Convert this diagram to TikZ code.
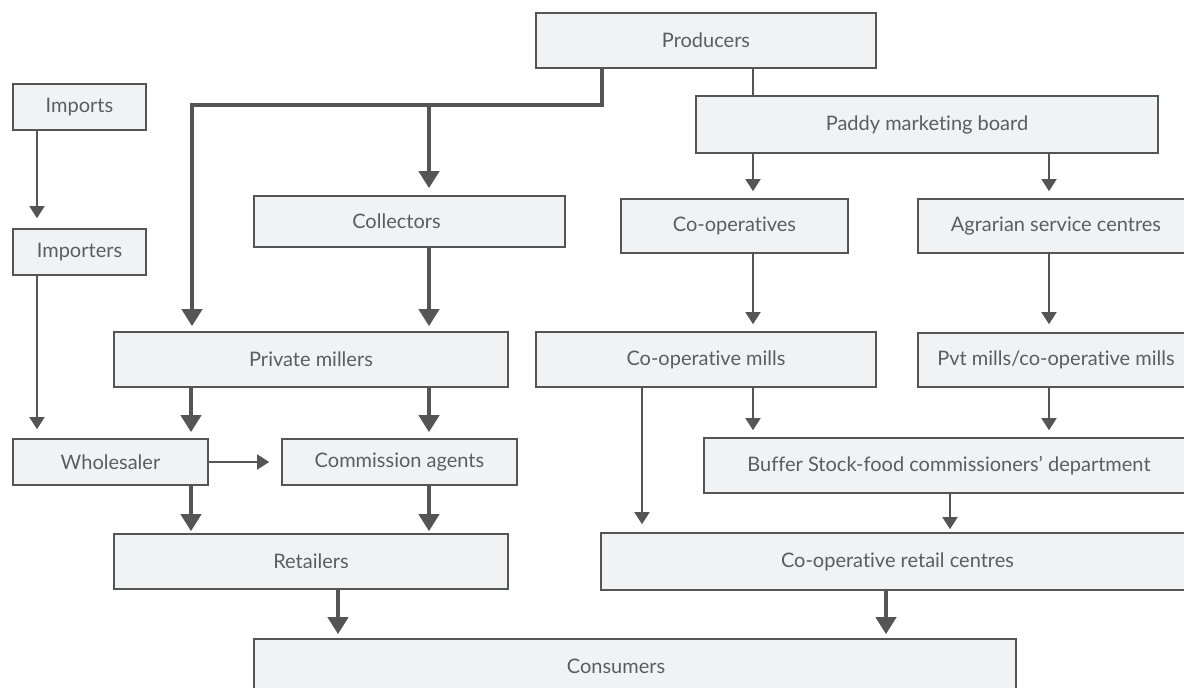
\documentclass[tikz,border=0pt]{standalone}
\usepackage{fontspec}
\setmainfont{Lato}[Ligatures=NoCommon]
\usetikzlibrary{arrows.meta}
\definecolor{boxfill}{HTML}{F1F2F4}
\definecolor{ink}{HTML}{555555}
\definecolor{txt}{HTML}{5A5D61}
\tikzset{
  box/.style={draw=ink, fill=boxfill, line width=1.6pt, rectangle, inner sep=0pt,
    text=txt, font=\fontsize{20}{24}\selectfont},
  heavy/.style={draw=ink, line width=4pt, -{Triangle[length=17pt,width=20pt]}},
  light/.style={draw=ink, line width=1.6pt, -{Triangle[length=12pt,width=15pt]}},
  plain/.style={draw=ink, line width=1.6pt},
}
% place a box by its corners (x1,y1) and (x2,y2), y measured downwards
\newcommand{\flowbox}[6]{%
  \node[box, minimum width={#4-#2}, minimum height={#5-#3}]
    (#1) at ({(#2+#4)/2},{(#3+#5)/2}) {#6};}
\begin{document}
\begin{tikzpicture}[x=1pt,y=-1pt]
\useasboundingbox (0,0) rectangle (1184,688);

% boxes
\flowbox{prod}{536}{13}{876}{68}{Producers}
\flowbox{paddy}{696}{96}{1158}{153}{Paddy marketing board}
\flowbox{imports}{13}{84}{146}{130}{Imports}
\flowbox{importers}{13}{229}{146}{275}{Importers}
\flowbox{collect}{254}{196}{565}{247}{Collectors\hspace*{26pt}}
\flowbox{coops}{621}{199}{848}{253}{Co-operatives}
\flowbox{agrar}{918}{199}{1194}{253}{Agrarian service centres}
\flowbox{privm}{114}{332}{508}{387}{Private millers}
\flowbox{coopmills}{536}{332}{876}{387}{Co-operative mills}
\flowbox{pvtm}{918}{333}{1194}{387}{Pvt mills/co-operative mills}
\flowbox{whole}{13}{439}{208}{485}{Wholesaler}
\flowbox{commis}{282}{439}{517}{485}{Commission agents}
\flowbox{buffer}{704}{438}{1194}{493}{Buffer Stock-food commissioners’ department}
\flowbox{retail}{114}{534}{508}{589}{Retailers}
\flowbox{coopretail}{601}{533}{1194}{590}{Co-operative retail centres}
\flowbox{consumers}{254}{639}{1016}{693}{Consumers\hspace*{38pt}}

% columns used by the connectors
\coordinate (c37) at (37,0);
\coordinate (c191) at (191,0);
\coordinate (c429) at (429,0);
\coordinate (c338) at (338,0);
\coordinate (c642) at (642,0);
\coordinate (c753) at (753,0);
\coordinate (c886) at (886,0);
\coordinate (c950) at (950,0);
\coordinate (c1049) at (1049,0);
\coordinate (r462) at (0,462);
% junctions of the heavy branch from the producers
\coordinate (jp) at (602,105);
\coordinate (jl) at (192,105);
\coordinate (jm) at (429,105);

% private trade channel
\draw[heavy, shorten >=5pt] (prod.south -| jp) -- (jp) -- (jl) -- (privm.north -| jl);
\draw[heavy, shorten >=7pt] (jm) -- (collect.north -| jm);
\draw[heavy, shorten >=5pt] (collect.south -| c429) -- (privm.north -| c429);
\draw[heavy, shorten >=6pt] (privm.south -| c191) -- (whole.north -| c191);
\draw[heavy, shorten >=6pt] (privm.south -| c429) -- (commis.north -| c429);
\draw[heavy, shorten >=2pt] (whole.south -| c191) -- (retail.north -| c191);
\draw[heavy, shorten >=2pt] (commis.south -| c429) -- (retail.north -| c429);
\draw[heavy, shorten >=4pt] (retail.south -| c338) -- (consumers.north -| c338);
\draw[heavy, shorten >=4pt] (coopretail.south -| c886) -- (consumers.north -| c886);

% imports
\draw[light, shorten >=10pt] (imports.south -| c37) -- (importers.north -| c37);
\draw[light, shorten >=9pt] (importers.south -| c37) -- (whole.north -| c37);
\draw[light, shorten >=12pt] (whole.east |- r462) -- (commis.west |- r462);

% state channel
\draw[plain] (prod.south -| c753) -- (paddy.north -| c753);
\draw[light, shorten >=7pt] (paddy.south -| c753) -- (coops.north -| c753);
\draw[light, shorten >=7pt] (paddy.south -| c1049) -- (agrar.north -| c1049);
\draw[light, shorten >=7pt] (coops.south -| c753) -- (coopmills.north -| c753);
\draw[light, shorten >=8pt] (agrar.south -| c1049) -- (pvtm.north -| c1049);
\draw[light, shorten >=7pt] (coopmills.south -| c753) -- (buffer.north -| c753);
\draw[light, shorten >=7pt] (pvtm.south -| c1049) -- (buffer.north -| c1049);
\draw[light, shorten >=8pt] (coopmills.south -| c642) -- (coopretail.north -| c642);
\draw[light, shorten >=3pt] (buffer.south -| c950) -- (coopretail.north -| c950);
\end{tikzpicture}
\end{document}
